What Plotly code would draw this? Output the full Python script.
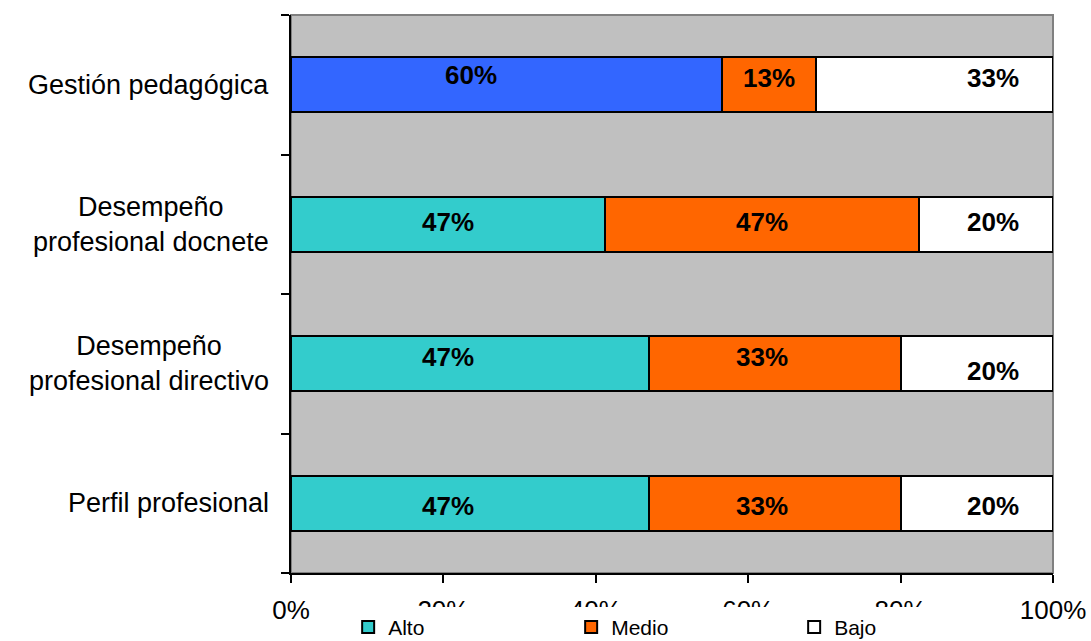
import plotly.graph_objects as go

# Categories listed bottom to top
categories = [
    "Perfil profesional",
    "Desempeño<br>profesional directivo",
    "Desempeño<br>profesional docnete",
    "Gestión pedagógica",
]
alto = [47, 47, 47, 60]
medio = [33, 33, 47, 13]
bajo = [20, 20, 20, 33]
series_names = ["Alto", "Medio", "Bajo"]
x_ticks = [0, 20, 40, 60, 80, 100]

# Per-bar colours for the first series (the top row is highlighted in blue)
alto_colors = ["#33CCCC", "#33CCCC", "#33CCCC", "#3366FF"]
medio_color = "#FF6600"
bajo_color = "#FFFFFF"

# Pixel nudges of the value labels (dx, dy) per row and series
label_nudge = [
    [(-22, -3), (-13, -3), (16, -3)],
    [(-22, 7), (-13, 7), (16, -7)],
    [(0, 2), (0, 2), (7, 2)],
    [(-36, 10), (0, 7), (59, 7)],
]

# Stacked shares normalised to 100% per row
raw = [alto, medio, bajo]
totals = [sum(r[i] for r in raw) for i in range(len(categories))]
shares = [[r[i] / totals[i] * 100 for i in range(len(categories))] for r in raw]

FONT = "Liberation Sans, Arial"

fig = go.Figure()
colors = [alto_colors, medio_color, bajo_color]
for k, name in enumerate(series_names):
    fig.add_trace(go.Bar(
        y=categories,
        x=shares[k],
        name=name,
        orientation="h",
        marker=dict(color=colors[k], line=dict(color="black", width=2)),
        hoverinfo="skip",
    ))

annotations = []
for i, cat in enumerate(categories):
    start = 0.0
    for k in range(3):
        w = shares[k][i]
        dx, dy = label_nudge[i][k]
        annotations.append(dict(
            x=start + w / 2, y=cat, xref="x", yref="y",
            text=f"{raw[k][i]}%", showarrow=False,
            xshift=dx, yshift=dy,
            font=dict(family=FONT, size=26, color="black", weight="bold"),
        ))
        start += w
    # category label, centred multi-line, left of the axis
    annotations.append(dict(
        x=0, y=cat, xref="paper", yref="y",
        text=cat, showarrow=False, xanchor="right", align="center",
        xshift=-20,
        font=dict(family=FONT, size=27, color="black"),
    ))

fig.update_layout(
    width=1091, height=641,
    margin=dict(l=291, r=38, t=15, b=68, autoexpand=False),
    paper_bgcolor="white",
    plot_bgcolor="#C0C0C0",
    barmode="stack",
    bargap=0.607,
    annotations=annotations,
    showlegend=True,
    legend=dict(
        orientation="h",
        x=0.075, xanchor="left",
        y=-0.0605, yanchor="top",
        bgcolor="white",
        font=dict(family=FONT, size=21, color="black"),
        entrywidth=178, entrywidthmode="pixels",
        traceorder="normal",
        itemclick=False,
    ),
    shapes=[dict(
        type="rect", xref="paper", yref="paper", x0=0, x1=1, y0=0, y1=1,
        line=dict(color="#808080", width=2), layer="below",
    )],
)

fig.update_xaxes(
    range=[0, 100], tickvals=x_ticks, ticktext=[f"{t}%" for t in x_ticks],
    ticks="outside", ticklen=8, tickwidth=2, tickcolor="black",
    showline=True, linecolor="black", linewidth=2,
    showgrid=False, zeroline=False,
    tickfont=dict(family=FONT, size=26, color="black"),
    ticklabelstandoff=5,
)
fig.update_yaxes(
    categoryorder="array", categoryarray=categories,
    tickson="boundaries", ticks="outside", ticklen=8, tickwidth=2, tickcolor="black",
    showticklabels=False,
    showline=True, linecolor="black", linewidth=2,
    showgrid=False, zeroline=False,
)

fig.write_html("out.html")
